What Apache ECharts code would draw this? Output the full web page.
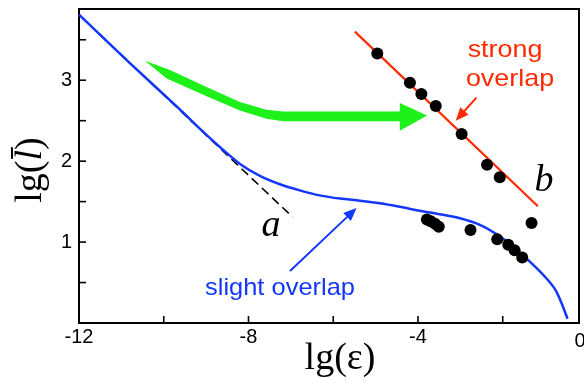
<!DOCTYPE html>
<html><head><meta charset="utf-8">
<script src="https://cdn.jsdelivr.net/npm/echarts@6/dist/echarts.min.js"></script>
<style>html,body{margin:0;padding:0;background:#fff}#c{width:584px;height:384px}</style>
</head><body><div id="c"></div>
<script>
// ---- data ----
const xTickValues = [-12, -10, -8, -6, -4, -2];
const xTickLabels = [-12, -8, -4];
const yTickValues = [0.5, 1, 1.5, 2, 2.5, 3, 3.5];
const yTickLabels = [1, 2, 3];

const lineA = [[-12, 3.81], [-6.96, 1.31]];
const slightCurve = [
  [-12, 3.81], [-10.8, 3.212], [-9.62, 2.639], [-9.15, 2.402], [-8.67, 2.172],
  [-8.20, 1.966], [-7.73, 1.817], [-7.26, 1.714], [-6.79, 1.639], [-6.32, 1.577],
  [-5.84, 1.537], [-5.37, 1.512], [-4.90, 1.481], [-4.43, 1.437], [-3.96, 1.387],
  [-3.49, 1.344], [-3.01, 1.294], [-2.54, 1.213], [-2.14, 1.095], [-1.76, 0.945],
  [-1.36, 0.758], [-0.96, 0.547], [-0.73, 0.385], [-0.47, 0.052]
];
const strongFit = [[-5.49, 3.60], [-1.17, 1.443]];
const strongDots = [[-4.96, 3.33], [-4.19, 2.97], [-3.92, 2.83], [-3.58, 2.68], [-2.97, 2.336], [-2.37, 1.954], [-2.07, 1.80]];
const slightDots = [[-3.79, 1.28], [-3.70, 1.256], [-3.60, 1.225], [-3.51, 1.19], [-2.76, 1.15], [-2.13, 1.036], [-1.87, 0.966], [-1.72, 0.90], [-1.54, 0.81], [-1.32, 1.235]];
const greenArrow = [
  [-10.443, 3.240], [-9.854, 3.125], [-8.988, 2.917], [-8.203, 2.730], [-7.573, 2.635],
  [-7.182, 2.614], [-4.429, 2.614], [-4.429, 2.717], [-3.785, 2.564], [-4.429, 2.377],
  [-4.429, 2.493], [-7.182, 2.493], [-7.573, 2.523], [-8.203, 2.626], [-8.988, 2.801],
  [-9.932, 3.021]
];
const pointerStrong = [[-2.62, 2.785], [-3.11, 2.50]];
const pointerSlight = [[-7.02, 0.643], [-5.45, 1.42]];

// ---- chart ----
const chart = echarts.init(document.getElementById('c'), null, {renderer: 'canvas'});
const SANS = '"Liberation Sans", Arial, sans-serif';
const SERIF = '"Liberation Serif", "Times New Roman", serif';
const X_MIN = -12, X_MAX = -0.2, Y_MIN = 0, Y_MAX = 3.88;
const TICK = 7;

function pointerRender(pts, color) {
  return function (params, api) {
    const a = api.coord(pts[0]);
    const b = api.coord(pts[1]);
    const dx = b[0] - a[0], dy = b[1] - a[1];
    const len = Math.sqrt(dx * dx + dy * dy);
    const ux = dx / len, uy = dy / len;
    const hl = 13, hw = 5.5;
    const bx = b[0] - ux * hl, by = b[1] - uy * hl;
    return {
      type: 'group',
      children: [
        {type: 'line', shape: {x1: a[0], y1: a[1], x2: bx + ux * 2, y2: by + uy * 2}, style: {stroke: color, lineWidth: 2}},
        {type: 'polygon', shape: {points: [[b[0], b[1]], [bx - uy * hw, by + ux * hw], [bx + uy * hw, by - ux * hw]]}, style: {fill: color}}
      ]
    };
  };
}

// frame edges and inward ticks as thin filled polygons placed through the axes
function frameRender(params, api) {
  const tl = api.coord([X_MIN, Y_MAX]);
  const tr = api.coord([X_MAX, Y_MAX]);
  const br = api.coord([X_MAX, Y_MIN]);
  const box = (x0, y0, x1, y1) => ({type: 'polygon', shape: {points: [[x0, y0], [x1, y0], [x1, y1], [x0, y1]]}, style: {fill: '#000'}});
  const children = [box(tl[0] - 1, tl[1] - 1, tr[0] + 1, tr[1] + 1), box(tr[0] - 1, tr[1] - 1, br[0] + 1, br[1] + 1)];
  xTickValues.forEach(v => {
    const p = api.coord([v, Y_MIN]);
    children.push(box(p[0] - 0.8, p[1] - TICK, p[0] + 0.8, p[1]));
  });
  yTickValues.forEach(v => {
    const p = api.coord([X_MIN, v]);
    children.push(box(p[0], p[1] - 0.8, p[0] + TICK, p[1] + 0.8));
  });
  return {type: 'group', children: children};
}

chart.setOption({
  animation: false,
  backgroundColor: '#fff',
  grid: {left: 79, right: 5, top: 9, bottom: 61},
  xAxis: {
    type: 'value', min: X_MIN, max: X_MAX,
    splitLine: {show: false},
    axisLine: {show: true, onZero: false, lineStyle: {color: '#000', width: 2}},
    axisTick: {show: false},
    axisLabel: {customValues: xTickLabels, color: '#000', fontSize: 20, fontFamily: SANS, margin: 4}
  },
  yAxis: {
    type: 'value', min: Y_MIN, max: Y_MAX,
    splitLine: {show: false},
    axisLine: {show: true, onZero: false, lineStyle: {color: '#000', width: 2}},
    axisTick: {show: false},
    axisLabel: {customValues: yTickLabels, color: '#000', fontSize: 20, fontFamily: SANS, margin: 7}
  },
  series: [
    {type: 'custom', coordinateSystem: 'cartesian2d', data: [[0, 0]], clip: false, silent: true, z: 6, renderItem: frameRender},
    {type: 'line', data: lineA, symbol: 'none', lineStyle: {color: '#000', width: 1.6, type: [9, 5]}, z: 2},
    {type: 'line', data: slightCurve, symbol: 'none', smooth: 0.3, lineStyle: {color: '#1437ff', width: 2.5}, z: 3},
    {type: 'line', data: strongFit, symbol: 'none', lineStyle: {color: '#ff2a00', width: 2.2}, z: 3},
    {type: 'custom', coordinateSystem: 'cartesian2d', data: [[0, 0]], z: 4,
      renderItem: function (params, api) {
        return {type: 'polygon', shape: {points: greenArrow.map(p => api.coord(p))}, style: {fill: '#1ef01a'}};
      }},
    {type: 'custom', coordinateSystem: 'cartesian2d', data: [[0, 0]], z: 4, renderItem: pointerRender(pointerStrong, '#ff2a00')},
    {type: 'custom', coordinateSystem: 'cartesian2d', data: [[0, 0]], z: 4, renderItem: pointerRender(pointerSlight, '#1437ff')},
    {type: 'scatter', data: strongDots.concat(slightDots), symbolSize: 12, itemStyle: {color: '#000', opacity: 1}, z: 5}
  ],
  graphic: [
    {type: 'text', x: 580, y: 331, style: {text: '0', fill: '#000', font: '20px ' + SANS, align: 'center', verticalAlign: 'top'}},
    {type: 'text', x: 505, y: 50, scaleX: 1.12, style: {text: 'strong', fill: '#ff2a00', font: '24px ' + SANS, align: 'center', verticalAlign: 'middle'}},
    {type: 'text', x: 510, y: 79, scaleX: 1.12, style: {text: 'overlap', fill: '#ff2a00', font: '24px ' + SANS, align: 'center', verticalAlign: 'middle'}},
    {type: 'text', x: 280, y: 288, scaleX: 1.06, style: {text: 'slight overlap', fill: '#1437ff', font: '24px ' + SANS, align: 'center', verticalAlign: 'middle'}},
    {type: 'text', x: 271, y: 226, style: {text: 'a', fill: '#000', font: 'italic 38px ' + SERIF, align: 'center', verticalAlign: 'middle'}},
    {type: 'text', x: 544, y: 181, style: {text: 'b', fill: '#000', font: 'italic 38px ' + SERIF, align: 'center', verticalAlign: 'middle'}},
    {type: 'text', x: 340, y: 359, style: {text: 'lg(ε)', fill: '#000', font: '38px ' + SERIF, align: 'center', verticalAlign: 'middle'}},
    {type: 'text', x: 31, y: 170, rotation: Math.PI / 2,
      style: {text: '{n|lg(}{i|l\u0304}{n|)}', align: 'center', verticalAlign: 'middle',
        rich: {n: {font: '38px ' + SERIF, fill: '#000'}, i: {font: 'italic 38px ' + SERIF, fill: '#000'}}}}
  ]
});
</script>
</body></html>
